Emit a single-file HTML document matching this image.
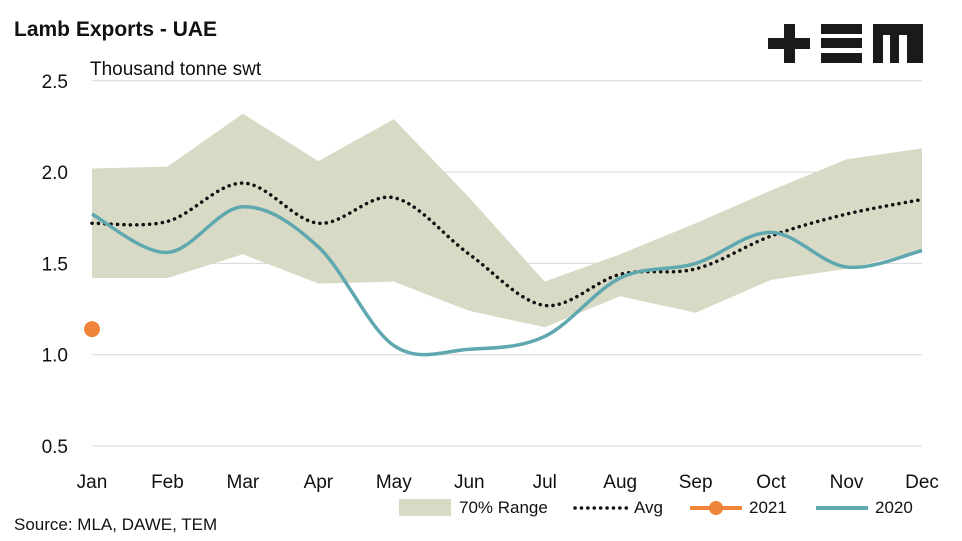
<!DOCTYPE html>
<html><head><meta charset="utf-8"><style>
body{margin:0;background:#fff;font-family:"Liberation Sans",sans-serif}
svg{display:block}
</style></head><body>
<svg id="c" width="962" height="541">
<text x="14" y="36" font-size="21" font-weight="bold" fill="#111">Lamb Exports - UAE</text>
<text x="90" y="75" font-size="19" fill="#111">Thousand tonne swt</text>
<g fill="#1a1a1a">
<rect x="768" y="38" width="42" height="11"/><rect x="784" y="24" width="11" height="39"/>
<rect x="821" y="24" width="41" height="10"/><rect x="821" y="38" width="41" height="10"/><rect x="821" y="53" width="41" height="10"/>
<rect x="873" y="24" width="50" height="11"/><rect x="873" y="24" width="10" height="39"/><rect x="890" y="24" width="9" height="39"/><rect x="907" y="24" width="16" height="39"/>
</g>
<g id="grid"></g><g id="plot"></g>
<text x="14" y="530" font-size="17" fill="#111">Source: MLA, DAWE, TEM</text>
<g font-size="17" fill="#111">
<g><rect x="399" y="499" width="52" height="17" fill="#d9dac5"/><text x="459" y="513">70% Range</text></g>
<g><line x1="575" y1="508" x2="627" y2="508" stroke="#111" stroke-width="3.5" stroke-dasharray="0.1 6.3" stroke-linecap="round"/><text x="634" y="513">Avg</text></g>
<g><line x1="690" y1="508" x2="742" y2="508" stroke="#f0843a" stroke-width="4"/><circle cx="716" cy="508" r="7" fill="#f0843a"/><text x="749" y="513">2021</text></g>
<g><line x1="816" y1="508" x2="868" y2="508" stroke="#5fa8b0" stroke-width="4"/><text x="875" y="513">2020</text></g>
</g>
</svg>
<script>
const months=["Jan","Feb","Mar","Apr","May","Jun","Jul","Aug","Sep","Oct","Nov","Dec"];
const yTicks=[0.5,1.0,1.5,2.0,2.5];
const rangeHigh=[2.02,2.03,2.32,2.06,2.29,1.86,1.40,1.55,1.72,1.90,2.07,2.13];
const rangeLow=[1.42,1.42,1.55,1.39,1.40,1.24,1.15,1.32,1.23,1.41,1.47,1.57];
const avg=[1.72,1.73,1.94,1.72,1.86,1.55,1.27,1.44,1.47,1.65,1.77,1.85];
const s2020=[1.77,1.56,1.81,1.59,1.05,1.03,1.10,1.42,1.50,1.67,1.48,1.57];
const s2021=[1.14];
const NS="http://www.w3.org/2000/svg";
const X=i=>92+i*(830/11), Y=v=>446-(v-0.5)*182.6;
function mk(t,a,p){const e=document.createElementNS(NS,t);for(const k in a)e.setAttribute(k,a[k]);p.appendChild(e);return e;}
const grid=document.getElementById('grid'),plot=document.getElementById('plot');
yTicks.forEach(v=>{
 const l=mk('line',{x1:92,x2:922,y1:Y(v),y2:Y(v),stroke:'#d9d9d9','stroke-width':1},grid);
 
 
 const t=mk('text',{x:68,y:Y(v)+7,'font-size':19,'text-anchor':'end',fill:'#111'},grid);t.textContent=v.toFixed(1);
 
 
});
months.forEach((m,i)=>{const t=mk('text',{x:X(i),y:488,'font-size':19,'text-anchor':'middle',fill:'#111'},grid);t.textContent=m;
 
 });
let d=rangeHigh.map((v,i)=>(i?'L':'M')+X(i)+','+Y(v)).join('');
for(let i=rangeLow.length-1;i>=0;i--)d+='L'+X(i)+','+Y(rangeLow[i]);
const area=mk('path',{d:d+'Z',fill:'#d9dac5'},plot);


function smooth(a){const p=a.map((v,i)=>[X(i),Y(v)]);let s='M'+p[0];
 for(let i=0;i<p.length-1;i++){const p0=p[i-1]||p[i],p1=p[i],p2=p[i+1],p3=p[i+2]||p2;
  s+=`C${p1[0]+(p2[0]-p0[0])/6},${p1[1]+(p2[1]-p0[1])/6} ${p2[0]-(p3[0]-p1[0])/6},${p2[1]-(p3[1]-p1[1])/6} ${p2[0]},${p2[1]}`;}return s;}
const av=mk('path',{d:smooth(avg),fill:'none',stroke:'#111','stroke-width':3.5,'stroke-dasharray':'0.1 6.3','stroke-linecap':'round'},plot);


const l20=mk('path',{d:smooth(s2020),fill:'none',stroke:'#5fa8b0','stroke-width':3.5},plot);


s2021.forEach((v,i)=>{const c=mk('circle',{cx:X(i),cy:Y(v),r:8,fill:'#f0843a'},plot);
 
 });
</script>
</body></html>
